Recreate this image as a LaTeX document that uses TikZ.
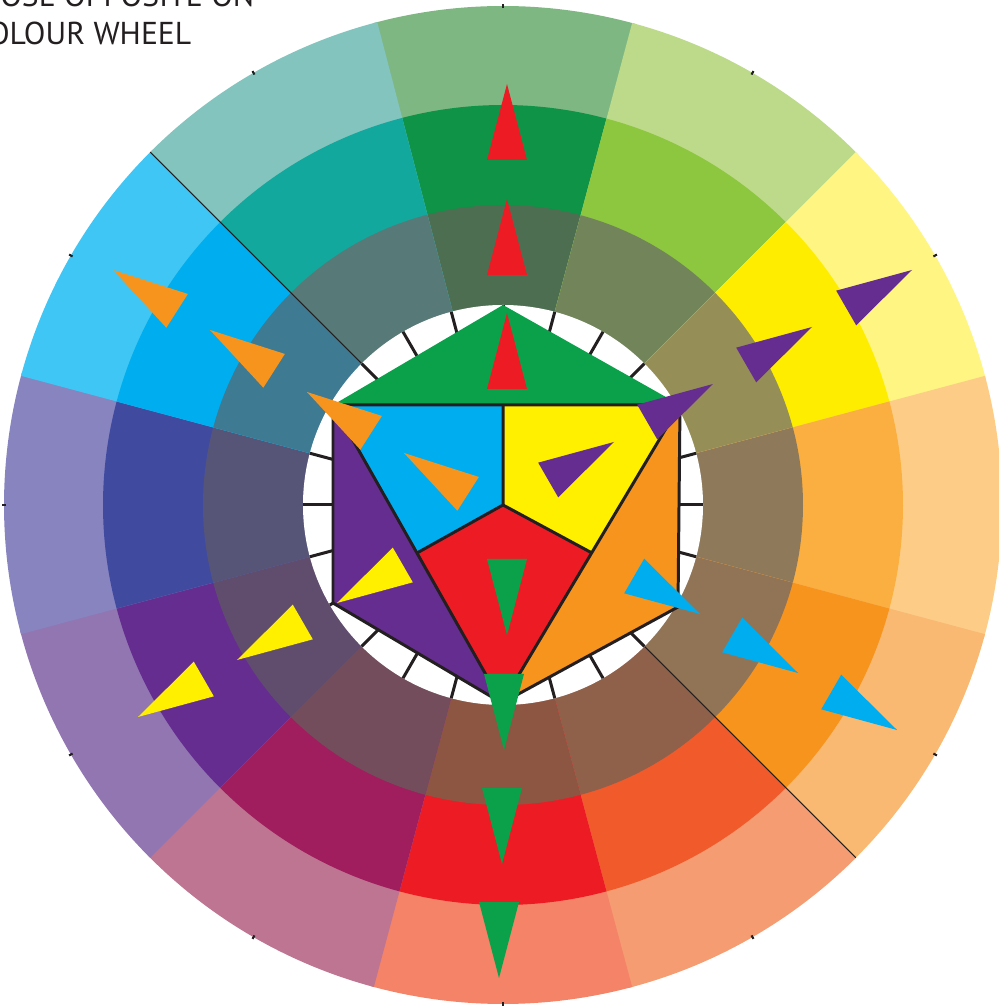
\documentclass[tikz,border=0pt]{standalone}
\usepackage{fontspec}
\setmainfont{PT Sans}
\usepackage{xcolor}
\usepackage{tikz}
\definecolor{CWInk}{HTML}{231F20}
\definecolor{CWRed}{HTML}{ED1C24}
\definecolor{CWGreen}{HTML}{0AA14A}
\definecolor{CWBlue}{HTML}{00AEEF}
\definecolor{CWYellow}{HTML}{FFF000}
\definecolor{CWOrange}{HTML}{F7941E}
\definecolor{CWPurple}{HTML}{662D91}

\begin{document}
\begin{tikzpicture}[x=0.01cm,y=0.01cm]
\useasboundingbox (-503,-502) rectangle (496,505);
\clip (-503,-502) rectangle (496,505);
% twelve segments, clockwise from the top: tint / hue / shade
\foreach \k/\co/\cm/\ci in {0/7FB782/0E9347/4E6E52,1/BCDA8A/8DC63F/71845A,2/FFF582/FFED00/958F57,3/FDCD88/FBAF40/8E7A5B,4/FAB973/F7941E/917456,5/F59C72/F15A2B/8F604A,6/F48367/ED1C24/8C5643,7/BD7592/A01E5E/734D5B,8/9276B2/662D91/604D6E,9/8784C0/404BA0/565577,10/40C6F4/00AEEF/3F7A93,11/84C4BF/12A89D/577A78} {
  \pgfmathsetmacro{\sa}{75-30*\k-0.4}
  \pgfmathsetmacro{\sb}{105-30*\k}
  \definecolor{CWo}{HTML}{\co}
  \definecolor{CWm}{HTML}{\cm}
  \definecolor{CWi}{HTML}{\ci}
  \fill[CWo] (0,0) -- (\sa:499) arc[start angle=\sa,end angle=\sb,radius=499] -- cycle;
  \fill[CWm] (0,0) -- (\sa:400) arc[start angle=\sa,end angle=\sb,radius=400] -- cycle;
  \fill[CWi] (0,0) -- (\sa:300) arc[start angle=\sa,end angle=\sb,radius=300] -- cycle;
}
\foreach \a in {135,-45} \draw[CWInk,line width=0.3pt] (\a:200) -- (\a:499);
\foreach \a in {0,30,...,330} \draw[CWInk,line width=0.6pt] (\a:497) -- (\a:501);
% white ring with ticks
\fill[white] (0,0) circle[radius=200];
\foreach \a in {0,15,...,345} \draw[CWInk,line width=0.85pt] (\a:150) -- (\a:200);
% centre hexagon
\coordinate (hA) at (0,200);
\coordinate (hB) at (177,100);
\coordinate (hC) at (175,-102);
\coordinate (hD) at (-1,-198);
\coordinate (hE) at (-170,-98);
\coordinate (hF) at (-170,100);
\coordinate (hM) at (0,100);
\coordinate (hO) at (0,0);
\coordinate (hP) at (-86,-48);
\coordinate (hQ) at (89,-48);
\fill[CWGreen] (hA) -- (hB) -- (hF) -- cycle;
\fill[CWPurple] (hF) -- (hE) -- (hD) -- cycle;
\fill[CWOrange] (hB) -- (hC) -- (hD) -- cycle;
\fill[CWBlue] (hF) -- (hM) -- (hO) -- (hP) -- cycle;
\fill[CWYellow] (hM) -- (hB) -- (hQ) -- (hO) -- cycle;
\fill[CWRed] (hO) -- (hQ) -- (hD) -- (hP) -- cycle;
\begin{scope}[CWInk,line width=0.85pt]
\draw (hB) -- (hF) -- (hE) -- (hD) -- (hC) -- cycle;
\draw (hF) -- (hD) -- (hB);
\draw (hM) -- (hO) -- (hP);
\draw (hO) -- (hQ);
\end{scope}
% pointers: colour / tip / direction
\foreach \col/\x/\y/\r in {CWRed/4/421/90,CWRed/4/306/90,CWRed/4/192/90,
  CWGreen/4/-130/-90,CWGreen/1/-245/-90,CWGreen/-1/-359/-90,CWGreen/-4/-473/-90,
  CWOrange/-390/235/147.5,CWOrange/-293/175/147.5,CWOrange/-196/113/147.5,CWOrange/-99/52/147.5,
  CWPurple/409/235/30,CWPurple/309/178/30,CWPurple/210/121/30,CWPurple/111/63/30,
  CWBlue/197/-109/-30,CWBlue/295/-168/-30,CWBlue/394/-225/-30,
  CWYellow/-166/-98/210,CWYellow/-266/-155/210,CWYellow/-365/-212/210}
  \fill[\col,shift={(\x,\y)},rotate=\r] (0,0) -- (-76,20) -- (-76,-20) -- cycle;
\node[anchor=base east,inner sep=0pt,text=CWInk,font=\fontsize{9}{10}\selectfont] (title1) at (-248,498) {THOSE OPPOSITE ON};
\node[anchor=base east,inner sep=0pt,text=CWInk,font=\fontsize{9}{10}\selectfont] (title2) at (-311,460) {COLOUR WHEEL};
\end{tikzpicture}
\end{document}
